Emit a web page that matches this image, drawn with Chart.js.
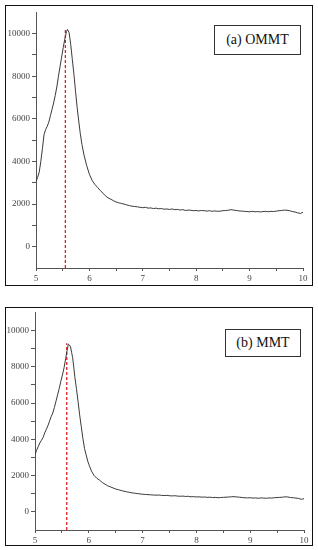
<!DOCTYPE html>
<html>
<head>
<meta charset="utf-8">
<script src="https://cdn.jsdelivr.net/npm/chart.js@4/dist/chart.umd.min.js"></script>
<style>
  html, body { margin:0; padding:0; background:#fff; }
  body { width:318px; height:550px; position:relative; overflow:hidden; }
  .frame { position:absolute; border:1.5px solid #111; box-sizing:border-box; }
  canvas { position:absolute; }
  .tag { position:absolute; border:1px solid #333; box-sizing:border-box; background:#fff;
         font-family:"Liberation Serif","DejaVu Serif",serif; font-size:14px; color:#111;
         display:flex; align-items:center; justify-content:center; white-space:nowrap; }
</style>
</head>
<body>
<div class="frame" style="left:5px;top:5px;width:308px;height:281px;"></div>
<div class="frame" style="left:5px;top:307px;width:308px;height:239px;"></div>
<canvas id="ca" width="308" height="283" style="left:5px;top:5px;"></canvas>
<canvas id="cb" width="308" height="243" style="left:5px;top:305px;"></canvas>
<div class="tag" style="left:214px;top:25px;width:87px;height:30px;">(a) OMMT</div>
<div class="tag" style="left:225px;top:329px;width:76px;height:28px;">(b) MMT</div>
<script>
// ---- data ----
const xTickLabels = [5, 6, 7, 8, 9, 10];
const yTickLabels = [0, 2000, 4000, 6000, 8000, 10000];

const xA = [5.00,5.03,5.06,5.09,5.12,5.15,5.18,5.21,5.24,5.27,5.30,5.33,5.36,5.39,5.42,5.45,5.48,5.51,5.54,5.57,5.59,5.62,5.65,5.68,5.71,5.74,5.77,5.80,5.83,5.86,5.90,5.95,6.00,6.05,6.10,6.15,6.20,6.25,6.30,6.35,6.40,6.45,6.50,6.55,6.60,6.65,6.70,6.75,6.80,6.85,6.90,6.95,
  7.00,7.05,7.10,7.15,7.20,7.25,7.30,7.35,7.40,7.45,7.50,7.55,7.60,7.65,7.70,7.75,7.80,7.85,7.90,7.95,
  8.00,8.05,8.10,8.15,8.20,8.25,8.30,8.35,8.40,8.45,8.50,8.55,8.60,8.65,8.70,8.75,8.80,8.85,8.90,8.95,
  9.00,9.05,9.10,9.15,9.20,9.25,9.30,9.35,9.40,9.45,9.50,9.55,9.60,9.65,9.70,9.75,9.80,9.85,9.90,9.95,10.00];
const yA = [3050,3250,3500,4000,4600,5250,5500,5650,5850,6150,6450,6750,7100,7500,8000,8450,8900,9350,9750,10100,10200,10050,9500,8800,8100,7300,6550,5900,5300,4800,4300,3800,3400,3120,2930,2790,2650,2520,2390,2290,2230,2160,2100,2060,2030,2000,1960,1930,1900,1890,1870,1850,
  1830,1850,1810,1820,1790,1810,1780,1790,1760,1770,1750,1770,1740,1750,1720,1740,1700,1720,1710,1690,
  1700,1680,1700,1690,1670,1690,1660,1680,1660,1670,1690,1700,1710,1740,1720,1700,1680,1670,1660,1650,
  1640,1660,1640,1650,1630,1650,1660,1640,1660,1650,1670,1690,1700,1720,1710,1690,1650,1630,1590,1560,1620];
const peakA = { x: [5.55, 5.55], y: [-1000, 10250] };

const xB = [5.00,5.03,5.06,5.09,5.12,5.15,5.18,5.21,5.24,5.27,5.30,5.33,5.36,5.39,5.42,5.45,5.48,5.51,5.54,5.57,5.60,5.62,5.64,5.66,5.68,5.70,5.72,5.74,5.77,5.80,5.83,5.86,5.89,5.92,5.95,5.98,6.01,6.05,6.10,6.15,6.20,6.25,6.30,6.35,6.40,6.45,6.50,6.55,6.60,6.65,6.70,6.75,6.80,6.85,6.90,6.95,
  7.00,7.05,7.10,7.15,7.20,7.25,7.30,7.35,7.40,7.45,7.50,7.55,7.60,7.65,7.70,7.75,7.80,7.85,7.90,7.95,
  8.00,8.05,8.10,8.15,8.20,8.25,8.30,8.35,8.40,8.45,8.50,8.55,8.60,8.65,8.70,8.75,8.80,8.85,8.90,8.95,
  9.00,9.05,9.10,9.15,9.20,9.25,9.30,9.35,9.40,9.45,9.50,9.55,9.60,9.65,9.70,9.75,9.80,9.85,9.90,9.95,10.00];
const yB = [3150,3400,3600,3800,3950,4100,4350,4550,4750,5000,5250,5450,5750,6100,6450,6800,7200,7550,7950,8450,8950,9250,9200,9100,8800,8500,8000,7450,6800,6100,5350,4700,4050,3500,3150,2800,2550,2250,2000,1850,1750,1620,1530,1440,1380,1320,1260,1220,1180,1140,1110,1080,1050,1030,1010,990,
  970,960,950,940,930,920,930,910,900,910,890,880,890,870,860,870,850,860,830,840,
  820,830,810,820,800,810,790,800,780,790,800,810,820,830,840,820,810,790,780,770,
  780,760,770,750,770,760,750,770,760,780,790,800,810,830,820,790,780,760,740,690,730];
const peakB = { x: [5.59, 5.59], y: [-1000, 9300] };

// ---- chart builder ----
const tickFont = { family: "'Liberation Serif','DejaVu Serif',serif", size: 9 };
function pts(xs, ys) { return xs.map((x, i) => ({ x: x, y: ys[i] })); }

function makeChart(id, xs, ys, peak, cfg) {
  new Chart(document.getElementById(id), {
    type: 'line',
    data: {
      datasets: [
        { data: pts(xs, ys), borderColor: '#3a3a3a', borderWidth: 1, pointRadius: 0, tension: 0, fill: false },
        { data: pts(peak.x, peak.y), borderColor: '#e02020', borderWidth: 1.3, borderDash: [3, 2], pointRadius: 0, fill: false }
      ]
    },
    options: {
      responsive: false,
      animation: false,
      events: [],
      layout: { padding: { left: 0, right: cfg.padRight, top: cfg.padTop, bottom: 0 } },
      plugins: { legend: { display: false }, tooltip: { enabled: false } },
      scales: {
        x: {
          type: 'linear', min: 5, max: 10,
          border: { display: true, color: '#555', width: 1 },
          grid: { drawOnChartArea: false, drawTicks: true, tickLength: 3, color: '#555', tickColor: '#555' },
          ticks: {
            stepSize: 0.5, autoSkip: false, maxRotation: 0, padding: 2,
            color: '#444', font: tickFont,
            callback: v => (xTickLabels.includes(v) ? String(v) : '')
          },
          afterFit: s => { s.height = cfg.xHeight; }
        },
        y: {
          type: 'linear', min: -1000, max: 11000,
          border: { display: true, color: '#555', width: 1 },
          grid: {
            drawOnChartArea: false, drawTicks: true, tickLength: 4, color: '#555',
            tickColor: ctx => (ctx.tick && (ctx.tick.value < 0 || ctx.tick.value > 10000)) ? 'rgba(0,0,0,0)' : '#555'
          },
          ticks: {
            stepSize: 1000, autoSkip: false, padding: 2,
            color: '#444', font: tickFont,
            callback: v => (yTickLabels.includes(v) ? String(v) : '')
          },
          afterFit: s => { s.width = cfg.yWidth; }
        }
      }
    }
  });
}

makeChart('ca', xA, yA, peakA, { padRight: 10, padTop: 2, xHeight: 20, yWidth: 31 });
makeChart('cb', xB, yB, peakB, { padRight: 9, padTop: 1, xHeight: 18, yWidth: 30 });
</script>
</body>
</html>
